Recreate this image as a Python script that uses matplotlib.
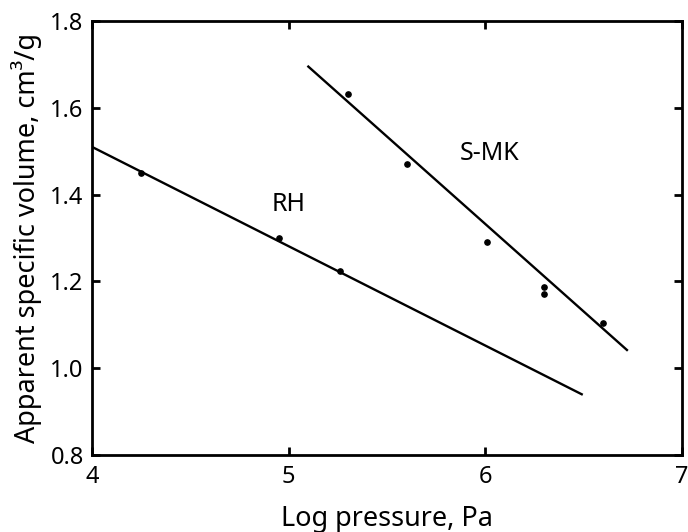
import matplotlib
matplotlib.use('Agg')
import matplotlib.pyplot as plt
import numpy as np

plt.rcParams['font.family'] = ['Noto Sans', 'DejaVu Sans']

# data
rh_x = [4.25, 4.95, 5.26]
rh_y = [1.45, 1.30, 1.225]
rh_line_x = [4.0, 6.49]
rh_line_y = [1.51, 0.94]

smk_x = [5.30, 5.60, 6.01, 6.30, 6.30, 6.60]
smk_y = [1.632, 1.47, 1.29, 1.187, 1.172, 1.105]
smk_line_x = [5.10, 6.72]
smk_line_y = [1.695, 1.042]

fig = plt.figure(figsize=(6.88, 5.32), dpi=100)
ax = fig.add_axes([0.1337, 0.1447, 0.8576, 0.8158])

ax.plot(rh_line_x, rh_line_y, color='black', lw=1.7)
ax.plot(smk_line_x, smk_line_y, color='black', lw=1.7)
ax.plot(rh_x, rh_y, 'o', color='black', ms=3.8)
ax.plot(smk_x, smk_y, 'o', color='black', ms=3.8)

ax.text(5.0, 1.378, 'RH', fontsize=18, ha='center', va='center')
ax.text(6.02, 1.494, 'S-MK', fontsize=18, ha='center', va='center')

ax.set_xlim(4, 7)
ax.set_ylim(0.8, 1.8)
ax.set_xticks([4, 5, 6, 7])
ax.set_yticks(np.arange(0.8, 1.81, 0.2))
ax.set_yticklabels(['0.8', '1.0', '1.2', '1.4', '1.6', '1.8'])
ax.tick_params(direction='in', top=True, right=True, length=6, width=2,
               labelsize=17)
ax.tick_params(axis='x', pad=7)
ax.tick_params(axis='y', pad=6)
for s in ax.spines.values():
    s.set_linewidth(2)

ax.set_xlabel('Log pressure, Pa', fontsize=19.5, labelpad=12)
ax.set_ylabel('Apparent specific volume, cm\u00b3/g', fontsize=19.5, labelpad=6)

fig.savefig('out.png', dpi=100)
